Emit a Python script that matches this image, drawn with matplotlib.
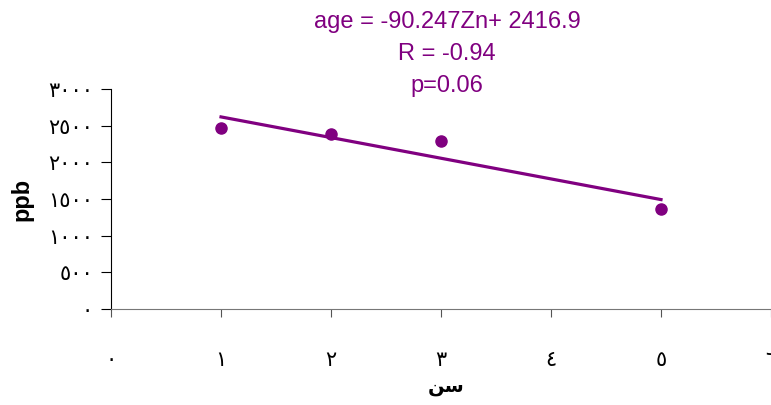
import matplotlib
matplotlib.use('Agg')
import matplotlib.pyplot as plt
import numpy as np

# data
ages = [1, 2, 3, 5]
ppb = [2468, 2386, 2291, 1364]
xticks = [0, 1, 2, 3, 4, 5, 6]
xticklabels = ['٠', '١', '٢', '٣', '٤', '٥', '٦']
yticks = [0, 500, 1000, 1500, 2000, 2500, 3000]
yticklabels = ['٠', '٥٠٠', '١٠٠٠', '١٥٠٠', '٢٠٠٠', '٢٥٠٠', '٣٠٠٠']
eq_lines = ['age = -90.247Zn+ 2416.9', 'R = -0.94', 'p=0.06']
xlabel = '\uFEE6\uFEB3'  # "سن" in presentation forms, visual order
ylabel = 'ppb'

purple = '#800080'

fig = plt.figure(figsize=(7.71, 4.05), dpi=100)
ax = fig.add_axes([0.144, 0.237, 0.856, 0.543])

ax.plot(ages, ppb, 'o', color=purple, markersize=8)
slope, icept = np.polyfit(ages, ppb, 1)
fx = np.array([ages[0], ages[-1]])
ax.plot(fx, slope * fx + icept, '-', color=purple, lw=2.3)

ax.set_xlim(0, 6)
ax.set_ylim(0, 3000)
ax.set_xticks(xticks)
ax.set_xticklabels(xticklabels, fontsize=15, family=['DejaVu Sans'])
ax.set_yticks(yticks)
ax.set_yticklabels(yticklabels, fontsize=15, family=['DejaVu Sans'])
ax.tick_params(axis='x', length=5.5, pad=24, color='#555555')
ax.tick_params(axis='y', length=7, pad=6)

for s in ['top', 'right']:
    ax.spines[s].set_visible(False)
ax.spines['bottom'].set_color('#777777')

ax.set_ylabel(ylabel, fontsize=17, fontweight='bold', family='Liberation Sans')
ax.yaxis.set_label_coords(-0.118, 0.5)
ax.set_xlabel(xlabel, fontsize=14, fontweight='bold', family=['DejaVu Sans'])
ax.xaxis.set_label_coords(0.508, -0.31)

for i, t in enumerate(eq_lines):
    fig.text(0.58, 1 - (28 + 32 * i) / 405.0, t, color=purple, fontsize=17,
             family='Liberation Sans', ha='center', va='baseline')

fig.savefig('out.png', dpi=100)
